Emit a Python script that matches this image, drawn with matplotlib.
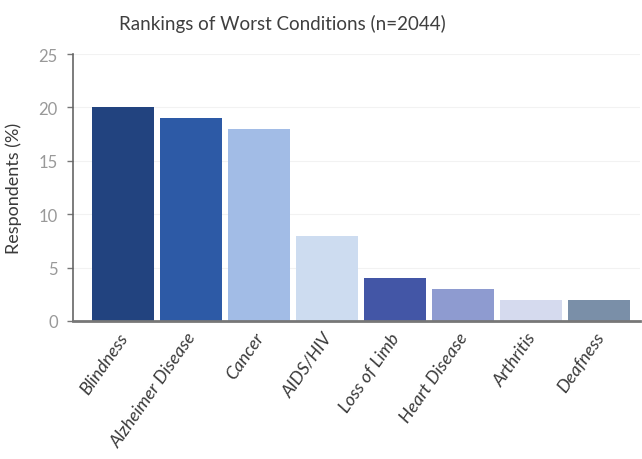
import matplotlib
matplotlib.use("Agg")
import matplotlib.pyplot as plt
import matplotlib.transforms as mtrans

conditions = ["Blindness", "Alzheimer Disease", "Cancer", "AIDS/HIV",
              "Loss of Limb", "Heart Disease", "Arthritis", "Deafness"]
percent = [20, 19, 18, 8, 4, 3, 2, 2]
colors = ["#22437f", "#2d5aa6", "#a2bce6", "#cddcf0",
          "#4356a6", "#8e9bd0", "#d5daee", "#7a8fa8"]
yticks = [0, 5, 10, 15, 20, 25]

plt.rcParams["font.family"] = ["Lato", "DejaVu Sans"]

fig = plt.figure(figsize=(6.42, 4.6), dpi=100)
ax = fig.add_axes([0.1137, 0.30, 0.883, 0.5804])

x = range(len(conditions))
ax.bar(x, percent, width=0.91, color=colors, zorder=2)

ax.set_xlim(-0.735, 7.6)
ax.set_ylim(0, 25)
ax.set_yticks(yticks)
ax.set_yticklabels([str(v) for v in yticks], color="#999999", fontsize=12)
ax.tick_params(axis="y", length=4, width=1, color="#777777", pad=7)
ax.grid(axis="y", color="#f2f2f2", linewidth=0.8, zorder=0)

# rotated, italic category labels hanging under each bar
ax.set_xticks(list(x))
ax.set_xticklabels(conditions, rotation=55, ha="right", va="top",
                   rotation_mode="anchor", fontsize=13, style="italic", color="#3a3a3a")
ax.tick_params(axis="x", length=0, pad=6)
offset = mtrans.ScaledTranslation(-0.05, 0, fig.dpi_scale_trans)
for lbl in ax.get_xticklabels():
    lbl.set_transform(lbl.get_transform() + offset)

for side in ["top", "right"]:
    ax.spines[side].set_visible(False)
ax.spines["left"].set_color("#666666")
ax.spines["left"].set_linewidth(1.2)
ax.spines["bottom"].set_color("#777777")
ax.spines["bottom"].set_linewidth(2)

ax.set_ylabel("Respondents (%)", fontsize=13, color="#3a3a3a", labelpad=12)
fig.text(0.44, 0.948, "Rankings of Worst Conditions (n=2044)", ha="center", va="center",
         fontsize=13.5, color="#3f3f3f")

fig.savefig("out.png", dpi=100)
